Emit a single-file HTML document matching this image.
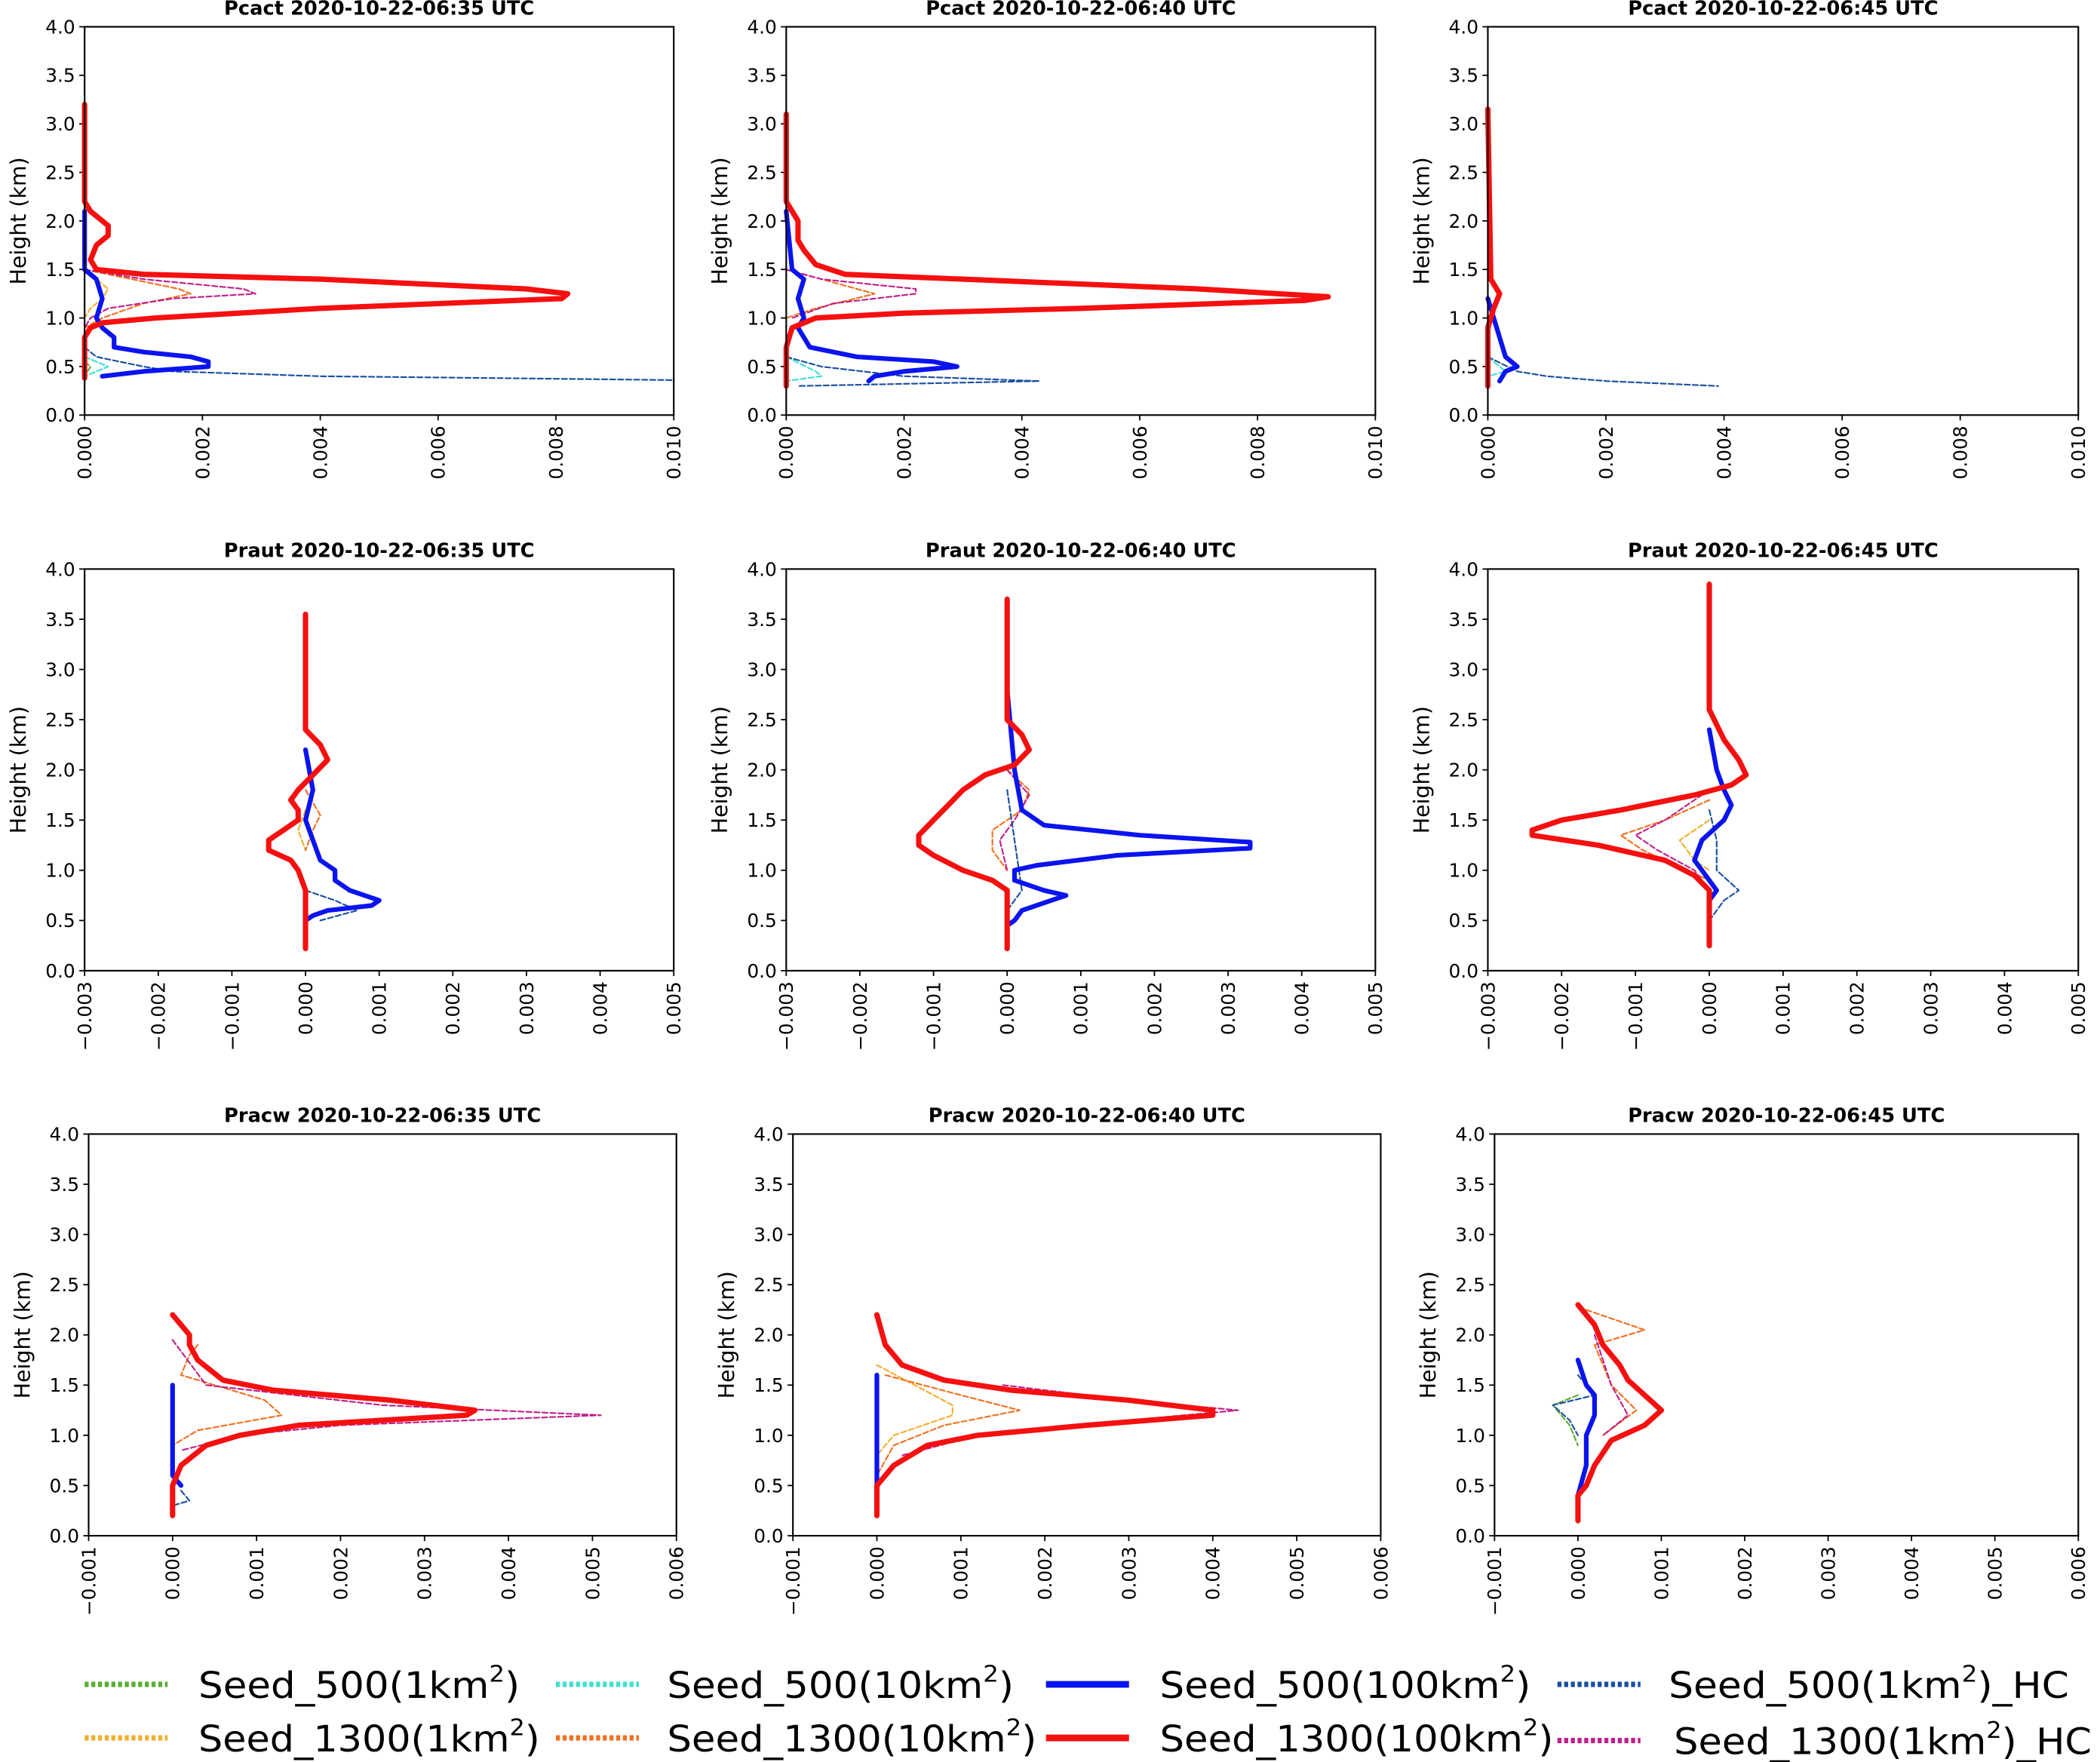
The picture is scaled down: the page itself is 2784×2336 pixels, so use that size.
<!DOCTYPE html>
<html><head><meta charset="utf-8"><style>
html,body{margin:0;padding:0;background:#fff}
svg{display:block;font-family:"DejaVu Sans","Liberation Sans",sans-serif}
</style></head><body>
<svg id="chart" width="2784" height="2336" viewBox="0 0 1568 1316" xmlns="http://www.w3.org/2000/svg"></svg>
<script>
// Series styles
const seriesNames = ["Seed_500(1km²)","Seed_500(10km²)","Seed_500(100km²)","Seed_500(1km²)_HC","Seed_1300(1km²)","Seed_1300(10km²)","Seed_1300(100km²)","Seed_1300(1km²)_HC"];
const seriesKeys = ["g","c","b","n","y","o","r","m"];
const yTicks = [0,0.5,1.0,1.5,2.0,2.5,3.0,3.5,4.0];
const row1Ticks = [0,0.002,0.004,0.006,0.008,0.010];
const row2Ticks = [-0.003,-0.002,-0.001,0,0.001,0.002,0.003,0.004,0.005];
const row3Ticks = [-0.001,0,0.001,0.002,0.003,0.004,0.005,0.006];
const panelTitles = ["Pcact 2020-10-22-06:35 UTC","Pcact 2020-10-22-06:40 UTC","Pcact 2020-10-22-06:45 UTC","Praut 2020-10-22-06:35 UTC","Praut 2020-10-22-06:40 UTC","Praut 2020-10-22-06:45 UTC","Pracw 2020-10-22-06:35 UTC","Pracw 2020-10-22-06:40 UTC","Pracw 2020-10-22-06:45 UTC"];
// data: [height_km, value]
const p1 = {
 r:[[3.2,0],[2.2,0],[2.1,0.0001],[1.95,0.0004],[1.85,0.0004],[1.75,0.0002],[1.6,0.0001],[1.5,0.0002],[1.45,0.001],[1.4,0.004],[1.3,0.0075],[1.25,0.0082],[1.2,0.0081],[1.1,0.004],[1.0,0.0012],[0.95,0.0003],[0.9,0.0001],[0.8,0],[0.38,0]],
 b:[[2.1,0],[1.5,0],[1.4,0.0002],[1.2,0.0003],[1.0,0.0002],[0.9,0.0003],[0.8,0.0005],[0.7,0.0005],[0.65,0.001],[0.6,0.0018],[0.55,0.0021],[0.5,0.0021],[0.45,0.001],[0.4,0.0003]],
 n:[[0.7,0],[0.6,0.0002],[0.5,0.001],[0.45,0.0015],[0.4,0.004],[0.38,0.007],[0.36,0.010]],
 m:[[1.5,0],[1.4,0.001],[1.3,0.0027],[1.25,0.0029],[1.2,0.0015],[1.1,0.0004],[1.0,0.0001],[0.9,0]],
 o:[[1.5,0],[1.4,0.0008],[1.3,0.0016],[1.25,0.0018],[1.15,0.001],[1.0,0.0003],[0.9,0]],
 y:[[1.5,0],[1.3,0.0004],[1.2,0.0003],[1.1,0.0001],[1.0,0]],
 c:[[0.6,0],[0.5,0.0004],[0.45,0.0002],[0.4,0]],
 g:[[0.55,0],[0.5,0.0001],[0.4,0]]
};
const p2 = {
 r:[[3.1,0],[2.2,0],[2.0,0.0002],[1.8,0.0002],[1.7,0.0003],[1.55,0.0005],[1.45,0.001],[1.4,0.003],[1.3,0.007],[1.22,0.0092],[1.18,0.0088],[1.1,0.005],[1.05,0.002],[1.0,0.0005],[0.9,0.0001],[0.7,0],[0.3,0]],
 b:[[2.1,0],[1.5,0.0001],[1.4,0.0003],[1.2,0.0002],[1.0,0.0003],[0.9,0.0002],[0.7,0.0004],[0.6,0.0012],[0.55,0.0025],[0.5,0.0029],[0.45,0.002],[0.4,0.0015],[0.35,0.0014]],
 n:[[0.6,0],[0.5,0.0006],[0.4,0.002],[0.35,0.0043],[0.3,0.0002]],
 m:[[1.5,0],[1.4,0.0006],[1.3,0.0022],[1.25,0.0022],[1.15,0.0008],[1.0,0.0001]],
 o:[[1.5,0],[1.4,0.0006],[1.3,0.0012],[1.25,0.0015],[1.1,0.0005],[1.0,0]],
 c:[[0.6,0],[0.45,0.0005],[0.4,0.0006],[0.35,0]]
};
const p3 = {
 r:[[3.15,0],[1.4,0.00005],[1.25,0.0002],[1.1,0.0001],[0.9,0],[0.3,0]],
 b:[[1.2,0],[0.8,0.0002],[0.6,0.0003],[0.5,0.0005],[0.45,0.0003],[0.35,0.0002]],
 n:[[0.6,0],[0.45,0.0005],[0.4,0.001],[0.35,0.002],[0.3,0.0039]],
 c:[[0.6,0],[0.45,0.0003],[0.4,0]]
};
const p4 = {
 r:[[3.55,0],[2.4,0],[2.25,0.0002],[2.1,0.0003],[1.95,0.0001],[1.8,-0.0001],[1.7,-0.0002],[1.6,-0.0001],[1.5,-0.0001],[1.4,-0.0003],[1.3,-0.0005],[1.2,-0.0005],[1.1,-0.0002],[1.0,-0.0001],[0.8,0],[0.22,0]],
 b:[[2.2,0],[1.8,0.0001],[1.5,0],[1.3,0.0001],[1.1,0.0002],[1.0,0.0004],[0.9,0.0004],[0.8,0.0006],[0.7,0.001],[0.65,0.0009],[0.6,0.0003],[0.55,0.0001],[0.5,0]],
 n:[[0.8,0],[0.7,0.0004],[0.6,0.0007],[0.5,0.0002]],
 o:[[1.8,0],[1.55,0.0002],[1.4,0.0001],[1.2,0]],
 y:[[1.6,0],[1.4,-0.0001],[1.2,0]]
};
const p5 = {
 r:[[3.7,0],[2.5,0],[2.35,0.0002],[2.2,0.0003],[2.05,0.0001],[1.95,-0.0003],[1.8,-0.0006],[1.65,-0.0008],[1.5,-0.001],[1.35,-0.0012],[1.25,-0.0012],[1.15,-0.001],[1.0,-0.0006],[0.9,-0.0002],[0.8,0],[0.22,0]],
 b:[[2.8,0],[2.0,0.0001],[1.6,0.0002],[1.45,0.0005],[1.35,0.0018],[1.28,0.0033],[1.22,0.0033],[1.15,0.0015],[1.05,0.0004],[1.0,0.0001],[0.9,0.0001],[0.8,0.0005],[0.75,0.0008],[0.7,0.0006],[0.6,0.0002],[0.5,0.0001],[0.45,0]],
 o:[[2.0,0],[1.8,0.0003],[1.6,0.0002],[1.4,-0.0002],[1.2,-0.0002],[1.0,0]],
 m:[[2.0,0],[1.75,0.0003],[1.5,0.0001],[1.3,-0.0001],[1.0,0]],
 n:[[1.8,0],[1.3,0.0001],[0.8,0.0002],[0.6,0]]
};
const p6 = {
 r:[[3.85,0],[2.6,0],[2.3,0.0002],[2.1,0.0004],[1.95,0.0005],[1.85,0.0003],[1.75,-0.0002],[1.6,-0.0012],[1.5,-0.002],[1.4,-0.0024],[1.35,-0.0024],[1.25,-0.0015],[1.1,-0.0006],[0.95,-0.0002],[0.8,0],[0.25,0]],
 b:[[2.4,0],[2.0,0.0001],[1.8,0.0002],[1.65,0.0003],[1.5,0.0002],[1.3,-0.0001],[1.1,-0.0002],[1.0,-0.0001],[0.9,0],[0.8,0.0001],[0.7,0]],
 m:[[1.8,0],[1.5,-0.0006],[1.35,-0.001],[1.2,-0.0007],[1.0,-0.0002],[0.8,0]],
 o:[[1.7,0],[1.5,-0.0006],[1.35,-0.0012],[1.2,-0.0009],[1.0,-0.0003],[0.9,0]],
 n:[[1.6,0],[1.3,0.0001],[1.0,0.0001],[0.8,0.0004],[0.7,0.0002],[0.5,0]],
 y:[[1.5,0],[1.3,-0.0004],[1.1,-0.0002],[1.0,0]]
};
const p7 = {
 r:[[2.2,0],[2.1,0.0001],[2.0,0.0002],[1.9,0.0002],[1.75,0.0003],[1.55,0.0006],[1.45,0.0012],[1.35,0.0026],[1.25,0.0036],[1.2,0.0035],[1.1,0.0015],[1.0,0.0008],[0.9,0.0004],[0.7,0.0001],[0.5,0],[0.2,0]],
 b:[[1.5,0],[0.6,0],[0.5,0.0001]],
 m:[[1.95,0],[1.5,0.0004],[1.3,0.0025],[1.2,0.0051],[1.1,0.002],[1.0,0.0008],[0.85,0.0001]],
 o:[[1.9,0.0003],[1.8,0.0002],[1.6,0.0001],[1.35,0.0011],[1.2,0.0013],[1.05,0.0003],[0.9,0]],
 n:[[0.45,0.0001],[0.35,0.0002],[0.3,0]]
};
const p8 = {
 r:[[2.2,0],[1.9,0.0001],[1.7,0.0003],[1.55,0.0008],[1.45,0.0016],[1.35,0.003],[1.25,0.004],[1.2,0.004],[1.1,0.0025],[1.0,0.0012],[0.9,0.0006],[0.7,0.0002],[0.5,0],[0.2,0]],
 b:[[1.6,0],[0.2,0]],
 o:[[1.6,0.0001],[1.4,0.001],[1.25,0.0017],[1.1,0.0008],[0.9,0.0002],[0.6,0]],
 y:[[1.7,0],[1.3,0.0009],[1.2,0.0009],[1.0,0.0002],[0.8,0]],
 m:[[1.5,0.0015],[1.35,0.003],[1.25,0.0043],[1.15,0.003],[1.0,0.0012],[0.8,0.0003]]
};
const p9 = {
 r:[[2.3,0],[2.1,0.0002],[1.9,0.0003],[1.7,0.0005],[1.55,0.0006],[1.4,0.0008],[1.25,0.001],[1.1,0.0008],[0.95,0.0004],[0.7,0.0002],[0.5,0.0001],[0.4,0],[0.15,0]],
 b:[[1.75,0],[1.5,0.0001],[1.4,0.0002],[1.2,0.0002],[1.0,0.0001],[0.7,0.0001],[0.4,0]],
 o:[[2.25,0.0001],[2.05,0.0008],[1.9,0.0002],[1.7,0.0003],[1.5,0.0004],[1.25,0.0007],[1.0,0.0003]],
 n:[[1.6,0],[1.4,0.0002],[1.3,-0.0003],[1.15,-0.0001],[1.0,0]],
 g:[[1.4,0],[1.3,-0.0003],[1.1,-0.0001],[0.9,0]],
 m:[[2.0,0.0002],[1.5,0.0004],[1.2,0.0006],[1.0,0.0003]]
};
const panelData = [p1,p2,p3,p4,p5,p6,p7,p8,p9];

const styles = {
 g:{c:"#5aad32",w:1.2,d:"4,2"}, c:{c:"#40e0d0",w:1.2,d:"4,2"}, b:{c:"#0a14ee",w:3.5,d:""}, n:{c:"#1a4fa0",w:1.2,d:"4,2"},
 y:{c:"#f0b030",w:1.2,d:"4,2"}, o:{c:"#f07020",w:1.2,d:"4,2"}, r:{c:"#f51010",w:4,d:""}, m:{c:"#c0208c",w:1.2,d:"4,2"}
};
const drawOrder = ["g","c","y","o","m","n","b","r"];
const NS="http://www.w3.org/2000/svg";
const svg=document.getElementById("chart");
function mk(tag,attrs,parent){const e=document.createElementNS(NS,tag);for(const k in attrs)e.setAttribute(k,attrs[k]);(parent||svg).appendChild(e);return e;}

const layout=[
 {y0:20,y1:310,cols:[[63,503],[587,1027],[1111,1552]],ticks:row1Ticks},
 {y0:425,y1:725,cols:[[63,503],[587,1027],[1111,1552]],ticks:row2Ticks},
 {y0:847,y1:1147,cols:[[66,505],[592,1031],[1116,1552]],ticks:row3Ticks}
];
for(let i=0;i<9;i++){
 const row=layout[Math.floor(i/3)], col=row.cols[i%3];
 const x0=col[0],x1=col[1],y0=row.y0,y1=row.y1,ticks=row.ticks;
 const xmin=ticks[0],xmax=ticks[ticks.length-1];
 const X=v=>x0+(v-xmin)/(xmax-xmin)*(x1-x0);
 const Y=h=>y1-h/4*(y1-y0);
 const g=mk("g",{});
 
 
 const t=mk("text",{x:(x0+x1)/2,y:y0-9,"text-anchor":"middle","font-size":14.5,"font-weight":"bold"},g);
 t.textContent=panelTitles[i];
 
 
 // y ticks
 yTicks.forEach(h=>{
  mk("line",{x1:x0-4,x2:x0,y1:Y(h),y2:Y(h),stroke:"#000","stroke-width":1},g);
  const tl=mk("text",{x:x0-7,y:Y(h)+5,"text-anchor":"end","font-size":14},g);
  tl.textContent=h.toFixed(1);
  
  
 });
 ticks.forEach(v=>{
  const xx=X(v);
  mk("line",{x1:xx,x2:xx,y1:y1,y2:y1+4,stroke:"#000","stroke-width":1},g);
  const tl=mk("text",{x:0,y:0,"text-anchor":"end","font-size":14,transform:`translate(${xx+5},${y1+8}) rotate(-90)`},g);
  tl.textContent=(v<0?"\u2212":"")+Math.abs(v).toFixed(3);
  
  
 });
 const yl=mk("text",{x:0,y:0,"text-anchor":"middle","font-size":16,transform:`translate(${x0-44},${(y0+y1)/2}) rotate(-90)`},g);
 yl.textContent="Height (km)";
 
 
 const d=panelData[i];
 drawOrder.forEach(k=>{
  if(!d[k])return;
  const s=styles[k];
  const pts=d[k].map(p=>X(p[1]).toFixed(1)+","+Y(p[0]).toFixed(1)).join(" ");
  const pl=mk("polyline",{points:pts,fill:"none",stroke:s.c,"stroke-width":s.w,"stroke-dasharray":s.d,"stroke-linejoin":"round","stroke-linecap":"round"},g);
  
  
 });
 const fr=mk("rect",{x:x0,y:y0,width:x1-x0,height:y1-y0,fill:"none",stroke:"#000","stroke-width":1.2},g);
 
 
}
// legend
const legPos=[[63,148,1258,240],[415,498,1258,259],[781,866,1258,277],[1163,1246,1258,299],[63,148,1298,255],[415,498,1298,276],[781,866,1298,294],[1163,1250,1300,312]];
const legKeys=["g","c","b","n","y","o","r","m"];
legKeys.forEach((k,j)=>{
 const p=legPos[j],s=styles[k];
 const g=mk("g",{});
 
 
 mk("line",{x1:p[0],x2:p[0]+62,y1:p[2],y2:p[2],stroke:s.c,"stroke-width":s.d?4:5,"stroke-dasharray":s.d?"3,2":""},g);
 const name=seriesNames[seriesKeys.indexOf(k)];
 const m=name.match(/^(.*km)²(\))(.*)$/);
 const t=mk("text",{x:p[1],y:p[2]+10,"font-size":27,textLength:p[3],lengthAdjust:"spacingAndGlyphs"},g);
 const a=mk("tspan",{},t);a.textContent=m[1];
 const sup=mk("tspan",{"font-size":17,dy:-12},t);sup.textContent="2";
 const b=mk("tspan",{dy:12},t);b.textContent=m[2]+m[3];
});
</script>
</body></html>
